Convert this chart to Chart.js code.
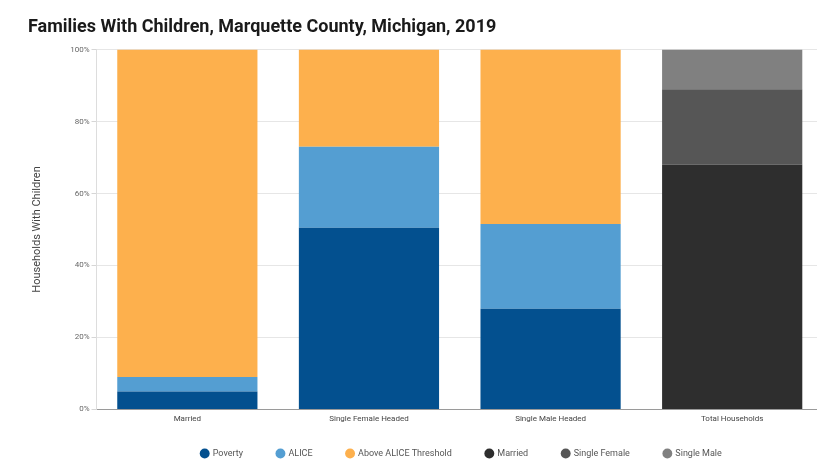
<!DOCTYPE html>
<html lang="en">
  <head>
    <meta charset="UTF-8" />
    <meta name="viewport" content="width=device-width, initial-scale=1.0" />
    <title>Families With Children, Marquette County, Michigan, 2019</title>
    <script src="https://cdn.jsdelivr.net/npm/chart.js"></script>
    <style>
      html,
      body {
        margin: 0;
        padding: 0;
        background: #ffffff;
        overflow: hidden;
      }
      .container {
        position: relative;
        width: 830px;
        height: 463px;
      }
    </style>
  </head>
  <body>
    <div class="container">
      <canvas id="families-chart"></canvas>
    </div>
    <script>
      const categories = [
        "Married",
        "Single Female Headed",
        "Single Male Headed",
        "Total Households",
      ];
      const yTicks = [0, 20, 40, 60, 80, 100];

      // income status shares (percent) for the three family types
      const poverty = [5, 50.5, 28, null];
      const alice = [4, 22.5, 23.5, null];
      const aboveAlice = [91, 27, 48.5, null];

      // family type shares (percent) among all households with children
      const totalMarried = [null, null, null, 68];
      const totalSingleFemale = [null, null, null, 21];
      const totalSingleMale = [null, null, null, 11];

      const seriesNames = [
        "Poverty",
        "ALICE",
        "Above ALICE Threshold",
        "Married",
        "Single Female",
        "Single Male",
      ];
      const seriesData = [
        poverty,
        alice,
        aboveAlice,
        totalMarried,
        totalSingleFemale,
        totalSingleMale,
      ];
      const seriesColors = [
        "#03508f",
        "#549ed2",
        "#fdb04d",
        "#2e2e2e",
        "#565656",
        "#808080",
      ];

      // the legend keeps wide gaps between items but stays close to the
      // axis labels, so its box is clamped and moved after layout
      // (only the top moves, the bottom stays so the clip keeps the text)
      const legendShift = {
        id: "legendShift",
        afterLayout(chart) {
          const legend = chart.legend;
          if (legend) {
            legend.left += 36;
            legend.right += 36;
            legend.top -= 14;
          }
        },
      };

      const ctx = document.getElementById("families-chart").getContext("2d");

      new Chart(ctx, {
        type: "bar",
        data: {
          labels: categories,
          datasets: seriesNames.map(function (name, i) {
            return {
              label: name,
              data: seriesData[i],
              backgroundColor: seriesColors[i],
              borderWidth: 0,
              stack: "share",
              barPercentage: 1,
              categoryPercentage: 0.772,
            };
          }),
        },
        options: {
          responsive: true,
          maintainAspectRatio: false,
          animation: false,
          layout: {
            padding: { left: 28, right: 7, top: 6, bottom: 0 },
          },
          scales: {
            x: {
              stacked: true,
              grid: {
                display: false,
                drawTicks: false,
              },
              border: {
                display: true,
                color: "#9a9a9a",
                width: 1,
              },
              ticks: {
                color: "#444444",
                padding: 5,
                font: { family: "Roboto", size: 8 },
              },
            },
            y: {
              stacked: true,
              min: 0,
              max: 100,
              afterBuildTicks: function (axis) {
                axis.ticks = yTicks.map(function (v) {
                  return { value: v };
                });
              },
              grid: {
                color: "#e6e6e6",
                lineWidth: 1,
                tickLength: 5,
                tickColor: "#d6d6d6",
              },
              border: {
                display: true,
                color: "#dddddd",
              },
              title: {
                display: true,
                text: "Households With Children",
                color: "#444444",
                font: { family: "Roboto", size: 11 },
                padding: { top: 3, bottom: 24 },
              },
              ticks: {
                color: "#666666",
                padding: 2,
                font: { family: "Roboto", size: 8 },
                callback: function (value) {
                  return value + "%";
                },
              },
            },
          },
          plugins: {
            title: {
              display: true,
              text: "Families With Children, Marquette County, Michigan, 2019",
              align: "start",
              color: "#1a1a1a",
              font: { family: "Roboto", size: 18, weight: "bold" },
              padding: { top: 11, bottom: 11 },
            },
            legend: {
              position: "bottom",
              align: "center",
              maxHeight: 34,
              labels: {
                usePointStyle: true,
                pointStyle: "circle",
                boxWidth: 7,
                boxHeight: 7,
                padding: 34,
                color: "#555555",
                font: { family: "Roboto", size: 9 },
              },
            },
            tooltip: {
              callbacks: {
                label: function (context) {
                  return context.dataset.label + ": " + context.raw + "%";
                },
              },
            },
          },
        },
        plugins: [legendShift],
      });
    </script>
  </body>
</html>
